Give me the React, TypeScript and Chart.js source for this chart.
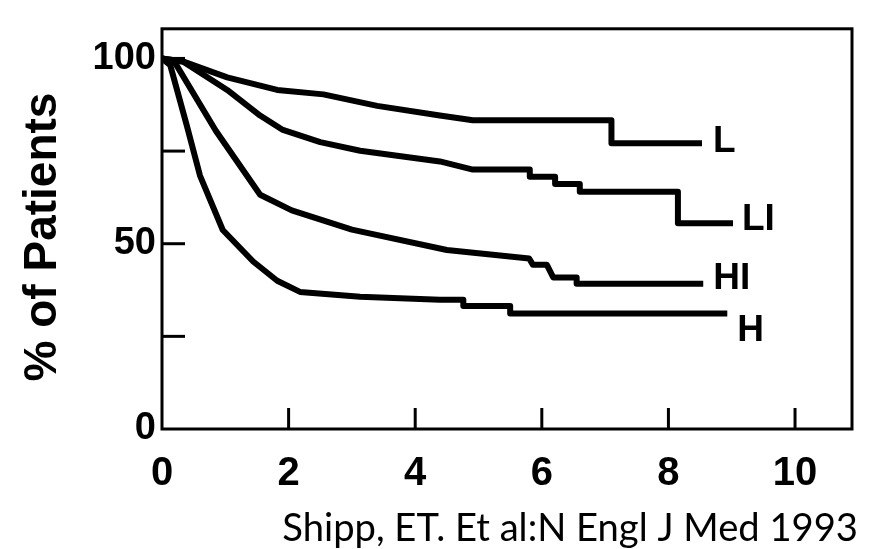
import React, { useEffect, useRef } from "react";
import { Chart, registerables } from "chart.js";

Chart.register(...registerables);

// ---- data ----
const xTicks = [0, 2, 4, 6, 8, 10];
const yTicks = [0, 25, 50, 75, 100];
const yLabelled = [0, 50, 100];
const seriesNames = ["L", "LI", "HI", "H"];

const lX = [0, 0.33, 1.03, 1.82, 2.55, 3.4, 4.39, 4.91, 7.1, 7.1, 8.53];
const lY = [100, 99.2, 94.9, 91.5, 90.3, 87.2, 84.6, 83.3, 83.3, 77.1, 77.1];

const liX = [0, 0.33, 1.03, 1.55, 1.91, 2.5, 3.13, 4.39, 4.91, 5.81, 5.81, 6.21, 6.21, 6.6, 6.6, 8.15, 8.15, 9.02];
const liY = [100, 99.2, 91.5, 84.6, 80.7, 77.4, 75.1, 72.2, 70, 70, 68.1, 68.1, 66.1, 66.1, 64, 64, 55.5, 55.5];

const hiX = [0, 0.2, 0.85, 1.55, 2.05, 3.0, 4.5, 5.8, 5.86, 6.08, 6.18, 6.55, 6.55, 8.55];
const hiY = [100, 99, 80.5, 63.2, 59, 53.8, 48.3, 46, 44.3, 44.3, 40.9, 40.9, 39.2, 39.2];

const hX = [0, 0.13, 0.39, 0.6, 0.96, 1.44, 1.82, 2.18, 3.13, 4.39, 4.76, 4.76, 5.5, 5.5, 8.93];
const hY = [100, 98.2, 82, 68.4, 53.7, 45.2, 40, 37, 35.7, 34.9, 34.9, 33.2, 33.2, 31.2, 31.2];

const yTitle = "% of Patients";
const caption = "Shipp, ET. Et al:N Engl J Med 1993";

const seriesX = [lX, liX, hiX, hX];
const seriesY = [lY, liY, hiY, hY];

// label offsets (style) relative to each curve's last point
const labelOffsets: Record<string, { dx: number; dy: number }> = {
  L: { dx: 11, dy: -5 },
  LI: { dx: 9, dy: -7 },
  HI: { dx: 10, dy: -8 },
  H: { dx: 10, dy: 14 },
};

const FONT = "'Liberation Sans', Arial, Helvetica, sans-serif";

const decorPlugin = {
  id: "decor",
  afterDraw(chart: any) {
    const ctx = chart.ctx as CanvasRenderingContext2D;
    const area = chart.chartArea;
    const xs = chart.scales.x;
    const ys = chart.scales.y;
    ctx.save();
    ctx.strokeStyle = "#000";
    ctx.fillStyle = "#000";
    // frame
    ctx.lineWidth = 3;
    ctx.strokeRect(area.left, area.top, area.right - area.left, area.bottom - area.top);
    // inner ticks
    ctx.lineWidth = 3;
    yTicks.forEach((v) => {
      if (v === 0) return;
      const py = ys.getPixelForValue(v);
      ctx.beginPath();
      ctx.moveTo(area.left, py);
      ctx.lineTo(area.left + 23, py);
      ctx.stroke();
    });
    xTicks.forEach((v) => {
      if (v === 0) return;
      const px = xs.getPixelForValue(v);
      ctx.beginPath();
      ctx.moveTo(px, area.bottom);
      ctx.lineTo(px, area.bottom - 21);
      ctx.stroke();
    });
    // series labels
    ctx.font = `bold 37px ${FONT}`;
    ctx.textAlign = "left";
    ctx.textBaseline = "alphabetic";
    seriesNames.forEach((name, i) => {
      const xsArr = seriesX[i];
      const ysArr = seriesY[i];
      const px = xs.getPixelForValue(xsArr[xsArr.length - 1]);
      const py = ys.getPixelForValue(ysArr[ysArr.length - 1]);
      const off = labelOffsets[name];
      ctx.fillText(name, px + off.dx, py + off.dy + 37 * 0.358);
    });
    // y axis title
    ctx.save();
    ctx.translate(56, 237);
    ctx.rotate(-Math.PI / 2);
    ctx.font = `bold 46px ${FONT}`;
    ctx.textAlign = "center";
    ctx.textBaseline = "alphabetic";
    ctx.fillText(yTitle, 0, 0);
    ctx.restore();
    // caption
    ctx.font = `100px Lato, 'Open Sans', sans-serif`;
    const w = ctx.measureText(caption).width;
    const size = (100 * 576) / w;
    ctx.font = `${size}px Lato, 'Open Sans', sans-serif`;
    ctx.textAlign = "right";
    ctx.textBaseline = "alphabetic";
    ctx.fillText(caption, 858, 541);
    ctx.restore();
  },
};

export default function App() {
  const ref = useRef<HTMLCanvasElement | null>(null);
  useEffect(() => {
    if (!ref.current) return;
    const datasets = seriesNames.map((name, i) => ({
      label: name,
      data: seriesX[i].map((x, j) => ({ x, y: seriesY[i][j] })),
      borderColor: "#000",
      backgroundColor: "#000",
      borderWidth: 6,
      pointRadius: 0,
      tension: 0,
      fill: false,
      borderJoinStyle: "round" as const,
      borderCapStyle: "butt" as const,
    }));
    const chart = new Chart(ref.current, {
      type: "line",
      data: { datasets },
      options: {
        responsive: false,
        animation: false,
        layout: { padding: { left: 0, top: 8, right: 18, bottom: 0 } },
        plugins: { legend: { display: false }, tooltip: { enabled: false } },
        scales: {
          x: {
            type: "linear",
            min: 0,
            max: 10.9,
            afterFit: (s: any) => {
              s.height = 120;
            },
            afterBuildTicks: (s: any) => {
              s.ticks = xTicks.map((v) => ({ value: v }));
            },
            grid: { display: false, drawTicks: false },
            border: { display: false },
            ticks: {
              padding: 21,
              color: "#000",
              maxRotation: 0,
              autoSkip: false,
              font: { family: FONT, size: 40, weight: "bold" },
            },
          },
          y: {
            type: "linear",
            min: 0,
            max: 108,
            afterFit: (s: any) => {
              s.width = 162;
            },
            afterBuildTicks: (s: any) => {
              s.ticks = yTicks.map((v) => ({ value: v }));
            },
            grid: { display: false, drawTicks: false },
            border: { display: false },
            ticks: {
              padding: 6,
              color: "#000",
              autoSkip: false,
              callback: (v: any) => (yLabelled.includes(Number(v)) ? String(v) : ""),
              font: { family: FONT, size: 38, weight: "bold" },
            },
          },
        },
      },
      plugins: [decorPlugin],
    });
    return () => chart.destroy();
  }, []);
  return (
    <div style={{ position: "absolute", left: 0, top: 0, width: 870, height: 549, background: "#fff" }}>
      <canvas ref={ref} width={870} height={549} style={{ display: "block" }} />
    </div>
  );
}
